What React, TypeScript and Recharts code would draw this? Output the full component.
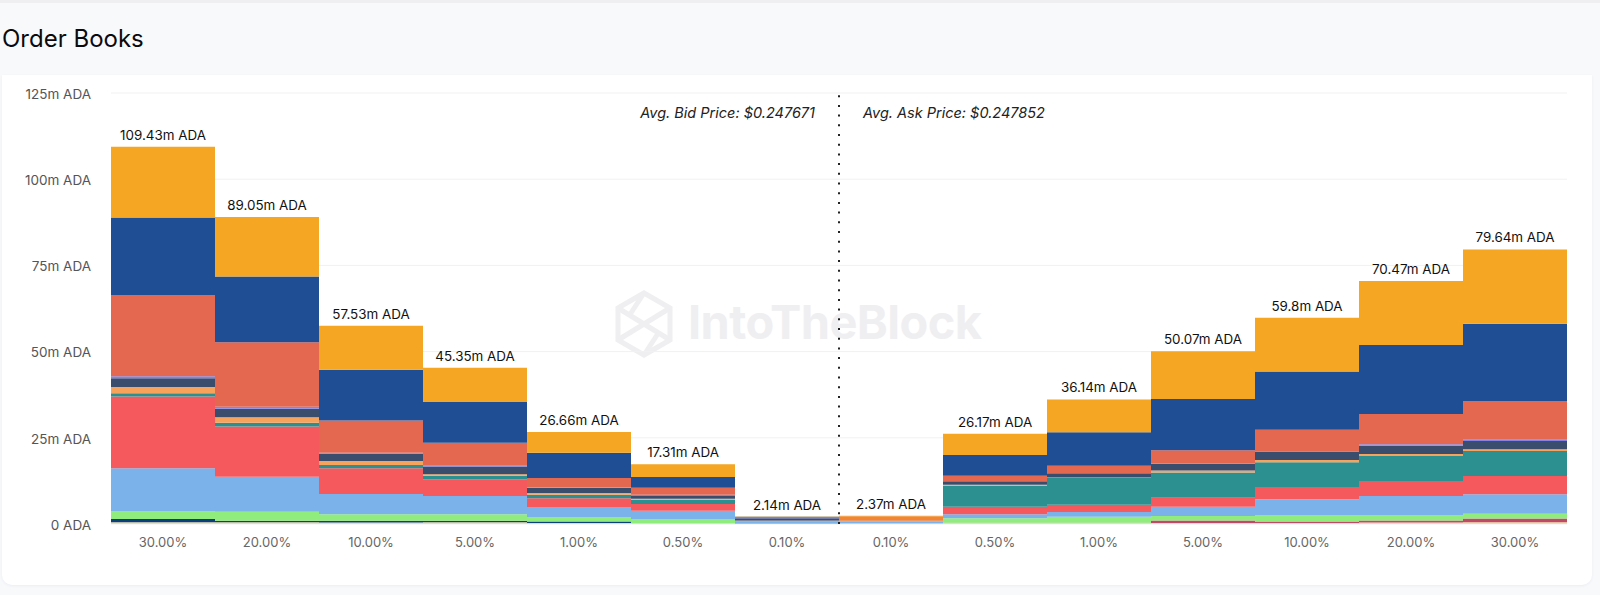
import React from 'react';
import { BarChart, Bar, XAxis, YAxis, CartesianGrid, ReferenceLine, LabelList } from 'recharts';

const FONT = 'Inter, "Noto Sans", sans-serif';

const categories = ['30.00%', '20.00%', '10.00%', '5.00%', '1.00%', '0.50%', '0.10%', '0.10%', '0.50%', '1.00%', '5.00%', '10.00%', '20.00%', '30.00%'];
const totals = [109.43, 89.05, 57.53, 45.35, 26.66, 17.31, 2.14, 2.37, 26.17, 36.14, 50.07, 59.8, 70.47, 79.64];
const yTicks = [0, 25, 50, 75, 100, 125];

const pale = [0.5, 0.5, 0.4, 0.5, 0.3, 0.2, 0.1, 0.1, 0.3, 0.3, 0.3, 0.3, 0.4, 0.5];
const navy = [0.95, 0.47, 0.57, 0.47, 0.4, 0.05, 0.02, 0, 0, 0, 0, 0, 0, 0];
const crimson = [0, 0, 0, 0, 0, 0, 0, 0, 0.05, 0.05, 0.7, 0.45, 0.6, 1.1];
const green = [2.32, 2.61, 1.83, 1.83, 1.3, 1.2, 0.08, 0.1, 1.3, 1.75, 1.3, 1.85, 1.6, 1.4];
const sky = [12.38, 10.15, 5.9, 5.3, 2.9, 2.42, 0.6, 0.45, 1.15, 1.4, 2.7, 4.55, 5.5, 5.6];
const red = [20.85, 14.57, 7.45, 4.9, 2.6, 1.93, 0.15, 0.1, 2.2, 2.1, 2.6, 3.55, 4.4, 5.3];
const teal = [0.9, 1.1, 0.95, 1, 1, 1.2, 0.05, 0.05, 6.1, 7.75, 7.3, 7.2, 7.2, 7.3];
const tan = [1.85, 1.55, 1.2, 0.4, 0.5, 0.35, 0.05, 0.05, 0.3, 0.1, 0.6, 0.65, 0.6, 0.5];
const slate = [2.55, 2.51, 2.1, 2.3, 1.45, 0.75, 0.65, 0.05, 1, 1.25, 2, 2.45, 2.4, 2.4];
const purple = [0.55, 0.58, 0.3, 0.2, 0.15, 0.4, 0.04, 0.02, 0.1, 0.1, 0.2, 0.1, 0.4, 0.3];
const salmon = [23.55, 18.66, 9.3, 6.7, 2.75, 2, 0.3, 0.05, 1.5, 2.1, 3.7, 6.2, 8.8, 11.3];
const flame = [0, 0, 0, 0, 0, 0, 0, 1.25, 0, 0, 0, 0, 0, 0];
const blue = [22.5, 19.1, 14.7, 11.8, 7.35, 3.1, 0.05, 0.05, 6, 9.7, 14.85, 16.95, 20, 22.4];
const amber = [20.53, 17.25, 12.83, 9.95, 5.96, 3.71, 0.05, 0.1, 6.17, 9.54, 13.82, 15.55, 18.57, 21.54];

const seriesList: [string, number[], string][] = [
  ['pale', pale, '#ecdf9f'],
  ['navy', navy, '#0b3f80'],
  ['crimson', crimson, '#c2486a'],
  ['green', green, '#90ed7d'],
  ['sky', sky, '#7cb2ea'],
  ['red', red, '#f5585d'],
  ['teal', teal, '#2b908f'],
  ['tan', tan, '#f7a35c'],
  ['slate', slate, '#3a4d6c'],
  ['purple', purple, '#8085e9'],
  ['salmon', salmon, '#e4674f'],
  ['flame', flame, '#f28433'],
  ['blue', blue, '#1f4e94'],
  ['amber', amber, '#f5a623'],
];

const rows = categories.map((c, i) => {
  const row: Record<string, number | string> = { key: String(i), label: c, total: totals[i] };
  seriesList.forEach(([name, values]) => {
    row[name] = values[i];
  });
  return row;
});

const fmtY = (v: number) => (v === 0 ? '0 ADA' : `${v}m ADA`);
const fmtX = (v: string) => categories[Number(v)];
const fmtTotal = (v: number) => `${v}m ADA`;

const note = (text: string, side: 'left' | 'right') => (props: any) => {
  const vb = props.viewBox;
  return (
    <text
      x={side === 'right' ? vb.x - 24 : vb.x + 24}
      y={vb.y + 25}
      textAnchor={side === 'right' ? 'end' : 'start'}
      fontFamily={FONT}
      fontSize={14.5}
      fontStyle="italic"
      fill="#222"
    >
      {text}
    </text>
  );
};

export default function App() {
  return (
    <div style={{ position: 'absolute', left: 0, top: 0, width: 1600, height: 595, overflow: 'hidden', background: '#f8f9fb', fontFamily: FONT }}>
      <div style={{ position: 'absolute', left: 0, top: 0, width: 1600, height: 3, background: '#efeff1' }} />
      <div style={{ position: 'absolute', left: 2, top: 24, fontSize: 24, lineHeight: '29px', color: '#0b0b0f' }}>Order Books</div>
      <div style={{ position: 'absolute', left: 2, top: 75, width: 1590, height: 510, background: '#fff', borderRadius: '0 0 10px 10px', boxShadow: '0 1px 3px rgba(40,50,80,0.06)' }} />
      <svg style={{ position: 'absolute', left: 615, top: 290 }} width={58} height={68} viewBox="0 0 58 68" fill="none" stroke="#efeff1" strokeWidth={5}>
        <path d="M29 3 L55 18 L55 50 L29 65 L3 50 L3 18 Z" />
        <path d="M3 18 L55 50 M55 18 L3 50 M29 3 L14 26 M29 65 L44 42" />
      </svg>
      <div style={{ position: 'absolute', left: 688, top: 293, fontSize: 47, lineHeight: '58px', fontWeight: 700, color: '#efeff1', letterSpacing: -0.6, whiteSpace: 'nowrap' }}>IntoTheBlock</div>
      <div style={{ position: 'absolute', left: 0, top: 0 }}>
        <BarChart
          width={1600}
          height={595}
          data={rows}
          barCategoryGap={0}
          margin={{ top: 93, right: 33, bottom: 41, left: 0 }}
        >
          <CartesianGrid vertical={false} stroke="#f1f1f3" strokeWidth={1} />
          <XAxis
            dataKey="key"
            tickFormatter={fmtX}
            axisLine={false}
            tickLine={false}
            tickMargin={8}
            interval={0}
            tick={{ fontFamily: FONT, fontSize: 13, fill: '#666' }}
          />
          <YAxis
            type="number"
            domain={[0, 125]}
            ticks={yTicks}
            width={111}
            tickFormatter={fmtY}
            axisLine={false}
            tickLine={false}
            tickMargin={14}
            tick={{ fontFamily: FONT, fontSize: 13.5, fill: '#555', dy: 1 }}
          />
          {seriesList.map(([name, , color]) => (
            <Bar key={name} dataKey={name} stackId="book" fill={color} isAnimationActive={false}>
              {name === 'amber' ? (
                <LabelList
                  dataKey="total"
                  position="top"
                  offset={7}
                  formatter={fmtTotal as any}
                  style={{ fontFamily: FONT, fontSize: 13.4, fill: '#111' }}
                />
              ) : null}
            </Bar>
          ))}
          <ReferenceLine
            x="7"
            position="start"
            stroke="#222"
            strokeWidth={2}
            strokeDasharray="2 7.7"
            label={{ content: note('Avg. Bid Price: $0.247671', 'right') as any }}
          />
          <ReferenceLine
            x="7"
            position="start"
            stroke="none"
            label={{ content: note('Avg. Ask Price: $0.247852', 'left') as any }}
          />
        </BarChart>
      </div>
    </div>
  );
}
